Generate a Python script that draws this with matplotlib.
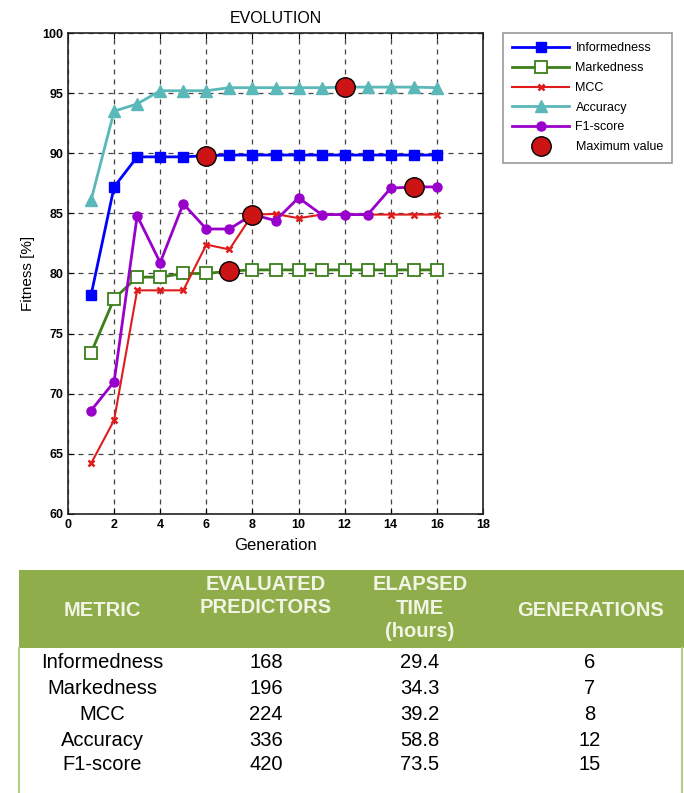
import matplotlib
matplotlib.use("Agg")
import matplotlib.pyplot as plt
from matplotlib.lines import Line2D
from matplotlib.patches import Rectangle

plt.rcParams['font.family'] = ['Liberation Sans', 'DejaVu Sans']

generations = list(range(1, 17))
informedness = [78.2, 87.2, 89.7, 89.7, 89.7, 89.8, 89.85, 89.85, 89.85, 89.85, 89.85, 89.85, 89.85, 89.85, 89.85, 89.85]
markedness = [73.4, 77.9, 79.7, 79.7, 80.0, 80.0, 80.2, 80.3, 80.3, 80.3, 80.3, 80.3, 80.3, 80.3, 80.3, 80.3]
mcc = [64.2, 67.8, 78.6, 78.6, 78.6, 82.4, 82.0, 84.9, 84.95, 84.6, 84.9, 84.9, 84.9, 84.9, 84.9, 84.9]
accuracy = [86.1, 93.5, 94.1, 95.2, 95.2, 95.2, 95.45, 95.45, 95.45, 95.45, 95.45, 95.5, 95.5, 95.5, 95.5, 95.45]
f1_score = [68.6, 71.0, 84.8, 80.9, 85.8, 83.7, 83.7, 84.9, 84.4, 86.3, 84.9, 84.9, 84.9, 87.1, 87.2, 87.2]

max_gen = [6, 7, 8, 12, 15]
max_val = [89.8, 80.2, 84.9, 95.5, 87.2]

series_names = ['Informedness', 'Markedness', 'MCC', 'Accuracy', 'F1-score']

table_header = ['METRIC', 'EVALUATED\nPREDICTORS', 'ELAPSED\nTIME\n(hours)', 'GENERATIONS']
table_metric = ['Informedness', 'Markedness', 'MCC', 'Accuracy', 'F1-score']
table_predictors = ['168', '196', '224', '336', '420']
table_time = ['29.4', '34.3', '39.2', '58.8', '73.5']
table_generations = ['6', '7', '8', '12', '15']

fig = plt.figure(figsize=(6.84, 7.93), dpi=100)
W, H = 684, 793
ax = fig.add_axes([68 / W, 1 - 514 / H, (483 - 68) / W, (514 - 33) / H])

ax.plot(generations, informedness, color='#0000ff', lw=2, marker='s', ms=7, mfc='#0000ff', mec='#0000ff', label=series_names[0])
ax.plot(generations, markedness, color='#3c7f1a', lw=2, marker='s', ms=8, mfc='white', mec='#3c7f1a', mew=1.3, label=series_names[1])
ax.plot(generations, mcc, color='#e01b1b', lw=1.5, marker='x', ms=5, mew=1.8, mec='#e01b1b', label=series_names[2])
ax.plot(generations, accuracy, color='#5bb8b8', lw=2, marker='^', ms=8, mfc='#5bb8b8', mec='#5bb8b8', label=series_names[3])
ax.plot(generations, f1_score, color='#9900cc', lw=2, marker='o', ms=6.5, mfc='#9900cc', mec='#9900cc', label=series_names[4])
ax.plot(max_gen, max_val, ls='none', marker='o', ms=14, mfc='#cc1414', mec='black', mew=1, label='Maximum value', zorder=5)

ax.set_xlim(0, 18)
ax.set_ylim(60, 100)
ax.set_xticks(range(0, 19, 2))
ax.set_yticks(range(60, 101, 5))
ax.grid(True, ls=(0, (4, 4)), color='#444444', lw=0.9)
ax.tick_params(direction='in', top=True, right=True, length=4, labelsize=9)
for lab in ax.get_xticklabels() + ax.get_yticklabels():
    lab.set_fontweight('bold')
for s in ax.spines.values():
    s.set_linewidth(1.2)
    s.set_color('#222222')
ax.set_xlabel('Generation', fontsize=12, labelpad=5)
ax.set_ylabel('Fitness [%]', fontsize=11, labelpad=5)
ax.set_title('EVOLUTION', fontsize=11.5, pad=7)

handles, labels = ax.get_legend_handles_labels()
leg = fig.legend(handles, labels, loc='upper left', bbox_to_anchor=(503 / W, 1 - 33 / H),
                 borderaxespad=0, fontsize=9, frameon=True, fancybox=False, edgecolor='#808080',
                 handlelength=4.5, handletextpad=0.55, labelspacing=0.62, borderpad=0.75)
leg.get_frame().set_linewidth(1.2)

# Table
green = '#8fad4b'
fig.patches.append(Rectangle((19 / W, 1 - 648 / H), (684 - 19) / W, (648 - 570) / H,
                             transform=fig.transFigure, facecolor=green, edgecolor='none'))
fig.add_artist(Line2D([19 / W, 19 / W], [0, 1 - 648 / H], transform=fig.transFigure, color='#b5cc88', lw=1.5))
fig.add_artist(Line2D([682 / W, 682 / W], [0, 1 - 648 / H], transform=fig.transFigure, color='#b5cc88', lw=1.5))

col_x = [102, 266, 420, 590]
hdr_y = [610, 596, 608, 610]
for cx, cy, txt in zip(col_x, hdr_y, table_header):
    fig.text(cx / W, 1 - cy / H, txt, ha='center', va='center', color='#f2f5e6',
             fontsize=14.5, fontweight='bold', linespacing=1.3)

row_y = [663, 688, 714, 740, 764]
for i, ry in enumerate(row_y):
    for cx, col in zip(col_x, [table_metric, table_predictors, table_time, table_generations]):
        fig.text(cx / W, 1 - ry / H, col[i], ha='center', va='center', color='black',
                 fontsize=14.5)

fig.savefig('out.png', dpi=100)
